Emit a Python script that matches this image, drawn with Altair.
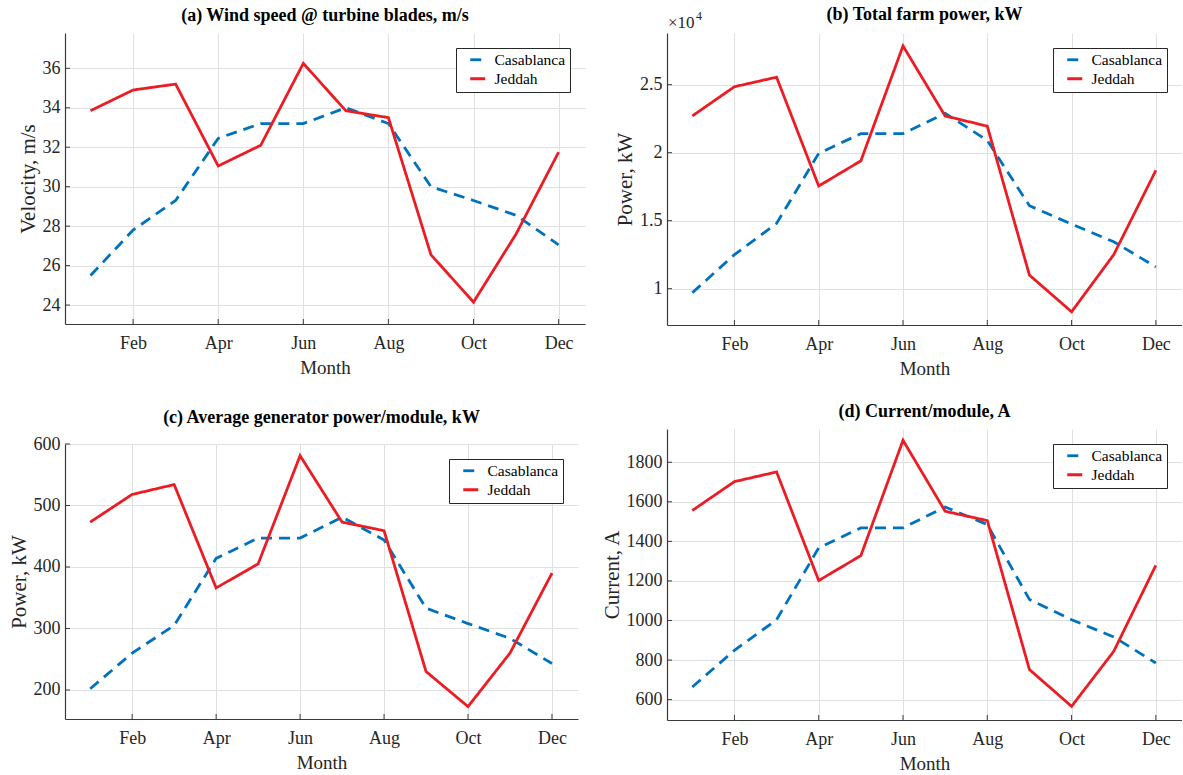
import altair as alt
import pandas as pd

# Monthly values (Jan..Dec) for the two sites
months = list(range(1, 13))
month_names = ["Jan", "Feb", "Mar", "Apr", "May", "Jun",
               "Jul", "Aug", "Sep", "Oct", "Nov", "Dec"]
tick_months = [2, 4, 6, 8, 10, 12]
cities = ["Casablanca", "Jeddah"]

wind_casablanca = [25.5, 27.8, 29.3, 32.45, 33.2, 33.2, 34.0, 33.2, 30.0, 29.3, 28.55, 27.05]
wind_jeddah = [33.85, 34.9, 35.2, 31.05, 32.1, 36.25, 33.85, 33.5, 26.55, 24.15, 27.6, 31.75]

farm_casablanca = [9700, 12500, 14800, 19950, 21400, 21400, 22900, 20900, 16100, 14750, 13450, 11600]
farm_jeddah = [22700, 24850, 25550, 17550, 19400, 27850, 22700, 21950, 11000, 8300, 12500, 18700]

gen_casablanca = [202, 260, 305, 414, 447, 447, 481, 444, 333, 308, 284, 243]
gen_jeddah = [473, 518, 534, 366, 405, 581, 473, 459, 230, 173, 260, 390]

cur_casablanca = [664, 849, 1004, 1367, 1468, 1468, 1574, 1485, 1106, 1004, 917, 785]
cur_jeddah = [1556, 1702, 1751, 1202, 1328, 1911, 1552, 1505, 752, 566, 844, 1279]

SERIF = "Liberation Serif"
BLUE = "#0072BD"
RED = "#EC1C24"
AXIS_COLOR = "#3a3a3a"
LABEL_COLOR = "#262626"
GRID_COLOR = "#e0e0e0"
LINE_W = 2.8

month_expr = "[" + ",".join("'%s'" % m for m in month_names) + "][datum.value - 1]"


def panel(title, ytitle, cas, jed, ydomain, yticks, ylabel_expr, width, height,
          exponent=False, title_offset=8):
    df = pd.DataFrame({
        "month": months * 2,
        "city": [cities[0]] * 12 + [cities[1]] * 12,
        "value": cas + jed,
    })

    x_enc = alt.X(
        "month:Q",
        scale=alt.Scale(domain=[0.4, 12.62], nice=False, zero=False),
        axis=alt.Axis(values=tick_months, labelExpr=month_expr, title="Month",
                      grid=True, ticks=False, labelPadding=10, titlePadding=6,
                      titleFontSize=19),
    )
    y_enc = alt.Y(
        "value:Q",
        scale=alt.Scale(domain=ydomain, nice=False, zero=False),
        axis=alt.Axis(values=yticks, labelExpr=ylabel_expr, title=ytitle,
                      grid=True, ticks=False, labelPadding=5, titlePadding=4,
                      titleFontSize=21),
    )

    # short horizontal stroke as legend key, drawn 30 px long
    legend = alt.Legend(
        orient="top-right", offset=15, fillColor="white", strokeColor=LABEL_COLOR,
        padding=4, symbolType="M-1.5,0L1.5,0", symbolSize=100, symbolOffset=10,
        symbolStrokeWidth=LINE_W, labelFont=SERIF, labelFontSize=15.5,
        labelColor="black", labelOffset=9, rowPadding=2,
    )

    lines = alt.Chart(df).mark_line(strokeWidth=LINE_W, clip=True).encode(
        x=x_enc,
        y=y_enc,
        color=alt.Color("city:N", title=None,
                        scale=alt.Scale(domain=cities, range=[BLUE, RED]),
                        legend=legend),
        strokeDash=alt.StrokeDash("city:N", title=None,
                                  scale=alt.Scale(domain=cities, range=[[11, 7], [1, 0]]),
                                  legend=legend),
    )

    # inward tick marks on both axes
    xticks = alt.Chart(pd.DataFrame({"month": tick_months})).mark_rule(
        color=AXIS_COLOR, strokeWidth=1).encode(
        x=x_enc, y=alt.value(height), y2=alt.value(height - 5))
    yticks_layer = alt.Chart(pd.DataFrame({"value": yticks})).mark_rule(
        color=AXIS_COLOR, strokeWidth=1).encode(
        y=y_enc, x=alt.value(0), x2=alt.value(5))

    layers = [lines, xticks, yticks_layer]
    if exponent:
        base = alt.Chart(pd.DataFrame({"t": [0]}))
        layers.append(base.mark_text(font=SERIF, fontSize=17, align="left",
                                     baseline="alphabetic", color=LABEL_COLOR,
                                     text="\u00d710").encode(
            x=alt.value(1), y=alt.value(-5)))
        layers.append(base.mark_text(font=SERIF, fontSize=12, align="left",
                                     baseline="alphabetic", color=LABEL_COLOR,
                                     text="4").encode(
            x=alt.value(29), y=alt.value(-13)))

    return alt.layer(*layers).properties(
        width=width, height=height,
        title=alt.TitleParams(title, font=SERIF, fontSize=18, fontWeight="bold",
                              color="black", anchor="middle", frame="group",
                              offset=title_offset),
    )


pa = panel("(a) Wind speed @ turbine blades, m/s", "Velocity, m/s",
           wind_casablanca, wind_jeddah, [23.04, 37.79], [24, 26, 28, 30, 32, 34, 36],
           "format(datum.value, 'd')", 520, 291)
pb = panel("(b) Total farm power, kW", "Power, kW",
           farm_casablanca, farm_jeddah, [7330, 28800], [10000, 15000, 20000, 25000],
           "format(datum.value / 10000, '.1~f')", 515, 292, exponent=True,
           title_offset=-14)
pc = panel("(c) Average generator power/module, kW", "Power, kW",
           gen_casablanca, gen_jeddah, [152.8, 600], [200, 300, 400, 500, 600],
           "format(datum.value, 'd')", 513, 275)
pd_ = panel("(d) Current/module, A", "Current, A",
            cur_casablanca, cur_jeddah, [497, 1968], [600, 800, 1000, 1200, 1400, 1600, 1800],
            "format(datum.value, 'd')", 515, 291)

left = alt.vconcat(pa, pc, spacing=120, bounds="flush").resolve_scale(
    color="independent", strokeDash="independent").resolve_legend(
    color="independent", strokeDash="independent")
right = alt.vconcat(pb, pd_, spacing=104, bounds="flush").resolve_scale(
    color="independent", strokeDash="independent").resolve_legend(
    color="independent", strokeDash="independent")

chart = alt.hconcat(left, right, spacing=16).resolve_scale(
    color="independent", strokeDash="independent").resolve_legend(
    color="independent", strokeDash="independent").properties(
    padding={"left": 8, "top": 6, "right": 0, "bottom": 0},
    background="white",
).configure_view(strokeWidth=0).configure_axis(
    labelFont=SERIF, labelFontSize=18, labelColor=LABEL_COLOR,
    titleFont=SERIF, titleFontWeight="normal", titleColor=LABEL_COLOR,
    domainColor=AXIS_COLOR, domainWidth=1.2, gridColor=GRID_COLOR, gridWidth=1,
)

chart.save("out.html", embed_options={"renderer": "svg", "actions": False})
